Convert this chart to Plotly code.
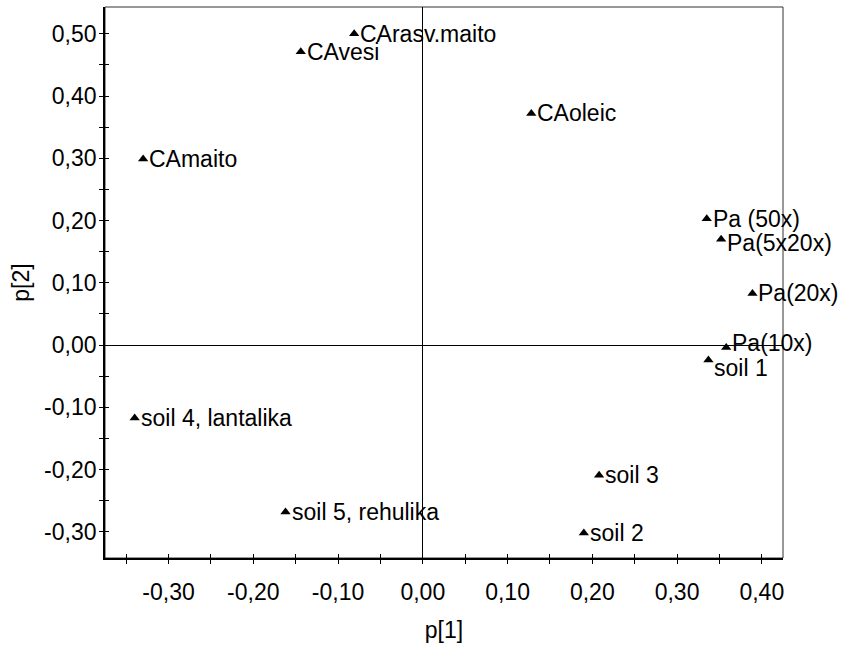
import plotly.graph_objects as go

# PCA loadings: p[1] vs p[2]
labels = ["CAmaito", "CAvesi", "CArasv.maito", "CAoleic",
          "Pa (50x)", "Pa(5x20x)", "Pa(20x)", "Pa(10x)",
          "soil 1", "soil 3", "soil 2",
          "soil 4, lantalika", "soil 5, rehulika"]
p1 = [-0.330, -0.144, -0.081, 0.128,
      0.335, 0.352, 0.389, 0.358,
      0.337, 0.208, 0.190,
      -0.340, -0.162]
p2 = [0.299, 0.471, 0.500, 0.372,
      0.203, 0.170, 0.083, -0.004,
      -0.024, -0.209, -0.302,
      -0.117, -0.268]
# vertical nudge of each label (px) so crowded ones do not collide
label_dy = [0, 0, 0, 0,
            0, -4, 0, 5,
            -8, 0, 0,
            0, 0]

x_ticks = [-0.30, -0.20, -0.10, 0.00, 0.10, 0.20, 0.30, 0.40]
y_ticks = [-0.30, -0.20, -0.10, 0.00, 0.10, 0.20, 0.30, 0.40, 0.50]
x_range = [-0.375, 0.425]
y_range = [-0.342, 0.543]


def fmt(v):
    return f"{v:.2f}".replace(".", ",")


FONT = "Liberation Sans, Arial, sans-serif"
FS = 23

fig = go.Figure()
fig.add_trace(go.Scatter(
    x=p1, y=p2, mode="markers",
    marker=dict(symbol="triangle-up", size=9, color="black"),
    cliponaxis=False, showlegend=False, hoverinfo="skip",
))
# invisible trace on overlay axes so the inner tick halves get drawn
fig.add_trace(go.Scatter(x=[None], y=[None], xaxis="x2", yaxis="y2",
                         showlegend=False, hoverinfo="skip"))

for lx, ly, lt, dy in zip(p1, p2, labels, label_dy):
    fig.add_annotation(x=lx, y=ly, text=lt, showarrow=False,
                       xanchor="left", yanchor="middle", xshift=4, yshift=dy,
                       font=dict(family=FONT, size=FS, color="black"))

axis_common = dict(
    showgrid=False, ticks="outside", ticklen=4, tickwidth=1.3, tickcolor="black",
    showline=True, linecolor="black", linewidth=1.8,
    zeroline=True, zerolinecolor="black", zerolinewidth=1,
    tickfont=dict(family=FONT, size=FS, color="black"),
    minor=dict(ticks="outside", ticklen=4, tickwidth=1.3, tickcolor="black", dtick=0.05),
)

fig.update_layout(
    width=847, height=647,
    margin=dict(l=105, r=64, t=7, b=89),
    paper_bgcolor="white", plot_bgcolor="white",
    xaxis=dict(range=x_range, tickvals=x_ticks, ticktext=[fmt(v) for v in x_ticks],
               title=dict(text="p[1]", font=dict(family=FONT, size=FS, color="black"),
                          standoff=18),
               ticklabelstandoff=8, **axis_common),
    yaxis=dict(range=y_range, tickvals=y_ticks, ticktext=[fmt(v) for v in y_ticks],
               title=dict(text="p[2]", font=dict(family=FONT, size=FS, color="black"),
                          standoff=8),
               ticklabelstandoff=-2, **axis_common),
    xaxis2=dict(range=x_range, overlaying="x", anchor="y", side="bottom",
                tickvals=x_ticks, showticklabels=False, ticks="inside", ticklen=4,
                tickwidth=1.3, tickcolor="black", showgrid=False, zeroline=False,
                showline=False,
                minor=dict(ticks="inside", ticklen=4, tickwidth=1.3, tickcolor="black", dtick=0.05)),
    yaxis2=dict(range=y_range, overlaying="y", anchor="x", side="left",
                tickvals=y_ticks, showticklabels=False, ticks="inside", ticklen=4,
                tickwidth=1.3, tickcolor="black", showgrid=False, zeroline=False,
                showline=False,
                minor=dict(ticks="inside", ticklen=4, tickwidth=1.3, tickcolor="black", dtick=0.05)),
    shapes=[dict(type="rect", xref="paper", yref="paper", x0=0, y0=0, x1=1, y1=1,
                 line=dict(color="#333333", width=1), layer="below")],
)

fig.write_html("out.html")
